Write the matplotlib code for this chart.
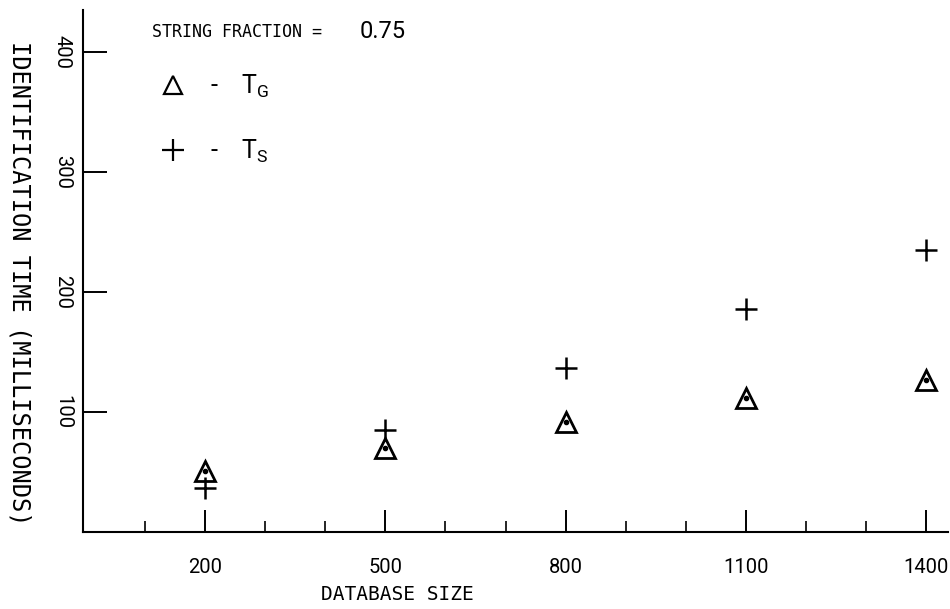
import matplotlib
matplotlib.use('Agg')
import matplotlib.pyplot as plt
from matplotlib.lines import Line2D
from matplotlib.ticker import FixedLocator

# values
db_size = [200, 500, 800, 1100, 1400]
t_g = [51, 70, 92, 112, 127]     # triangles
t_s = [37, 85, 137, 186, 235]    # plus signs
major_x = [200, 500, 800, 1100, 1400]
minor_x = [100, 300, 400, 600, 700, 900, 1000, 1200, 1300]
major_y = [100, 200, 300, 400]

num_font = ['Roboto', 'DejaVu Sans']
mono_font = ['DejaVu Sans Mono']

fig = plt.figure(figsize=(9.5, 6.09), dpi=100)
ax = fig.add_axes([83 / 950, 77 / 609, 865 / 950, 522 / 609])

ax.set_xlim(-3, 1436)
ax.set_ylim(0, 435)

# T_G : hollow triangle with a dot in the middle
ax.plot(db_size, t_g, linestyle='none', marker='^', markersize=14,
        markerfacecolor='white', markeredgecolor='black', markeredgewidth=2)
ax.plot(db_size, t_g, linestyle='none', marker='o', markersize=3, color='black')
# T_S : plus
ax.plot(db_size, t_s, linestyle='none', marker='+', markersize=16,
        markeredgewidth=1.8, color='black')

for s in ['top', 'right']:
    ax.spines[s].set_visible(False)
for s in ['left', 'bottom']:
    ax.spines[s].set_linewidth(1.5)

ax.xaxis.set_major_locator(FixedLocator(major_x))
ax.xaxis.set_minor_locator(FixedLocator(minor_x))
ax.yaxis.set_major_locator(FixedLocator(major_y))
ax.tick_params(axis='x', which='major', direction='in', length=16, width=1.4, pad=19)
ax.tick_params(axis='x', which='minor', direction='in', length=8, width=1.2)
ax.tick_params(axis='y', which='major', direction='in', length=17, width=1.4, pad=8)

ax.set_xticklabels([str(v) for v in major_x], family=num_font, fontsize=14.5)
ax.set_yticklabels([str(v) for v in major_y], family=num_font, fontsize=14.5,
                   rotation=-90, va='center')

ax.set_xlabel('DATABASE SIZE', family=mono_font, fontsize=14)
ax.xaxis.set_label_coords(0.363, -0.119)
ax.xaxis.label.set_va('center')

ax.set_ylabel('IDENTIFICATION TIME (MILLISECONDS)', family=mono_font, fontsize=17,
              rotation=-90, va='center', ha='center')
ax.yaxis.set_label_coords(-0.073, 0.477)

# key
ax.text(0.08, 0.958, 'STRING FRACTION =', transform=ax.transAxes,
        family=mono_font, fontsize=12, va='center', ha='left')
ax.text(0.32, 0.958, '0.75', transform=ax.transAxes,
        family=num_font, fontsize=17, va='center', ha='left')

handles = [Line2D([], [], linestyle='none', marker='^', markersize=13,
                  markerfacecolor='white', markeredgecolor='black', markeredgewidth=1.6),
           Line2D([], [], linestyle='none', marker='+', markersize=16,
                  markeredgewidth=1.6, color='black')]
labels = [r'-    $\mathregular{T_G}$', r'-    $\mathregular{T_S}$']
ax.legend(handles, labels, loc='upper left', bbox_to_anchor=(0.049, 0.922),
          frameon=False, labelspacing=1.5, handletextpad=0.5,
          prop={'family': num_font, 'size': 18})

fig.savefig('out.png', dpi=100)
